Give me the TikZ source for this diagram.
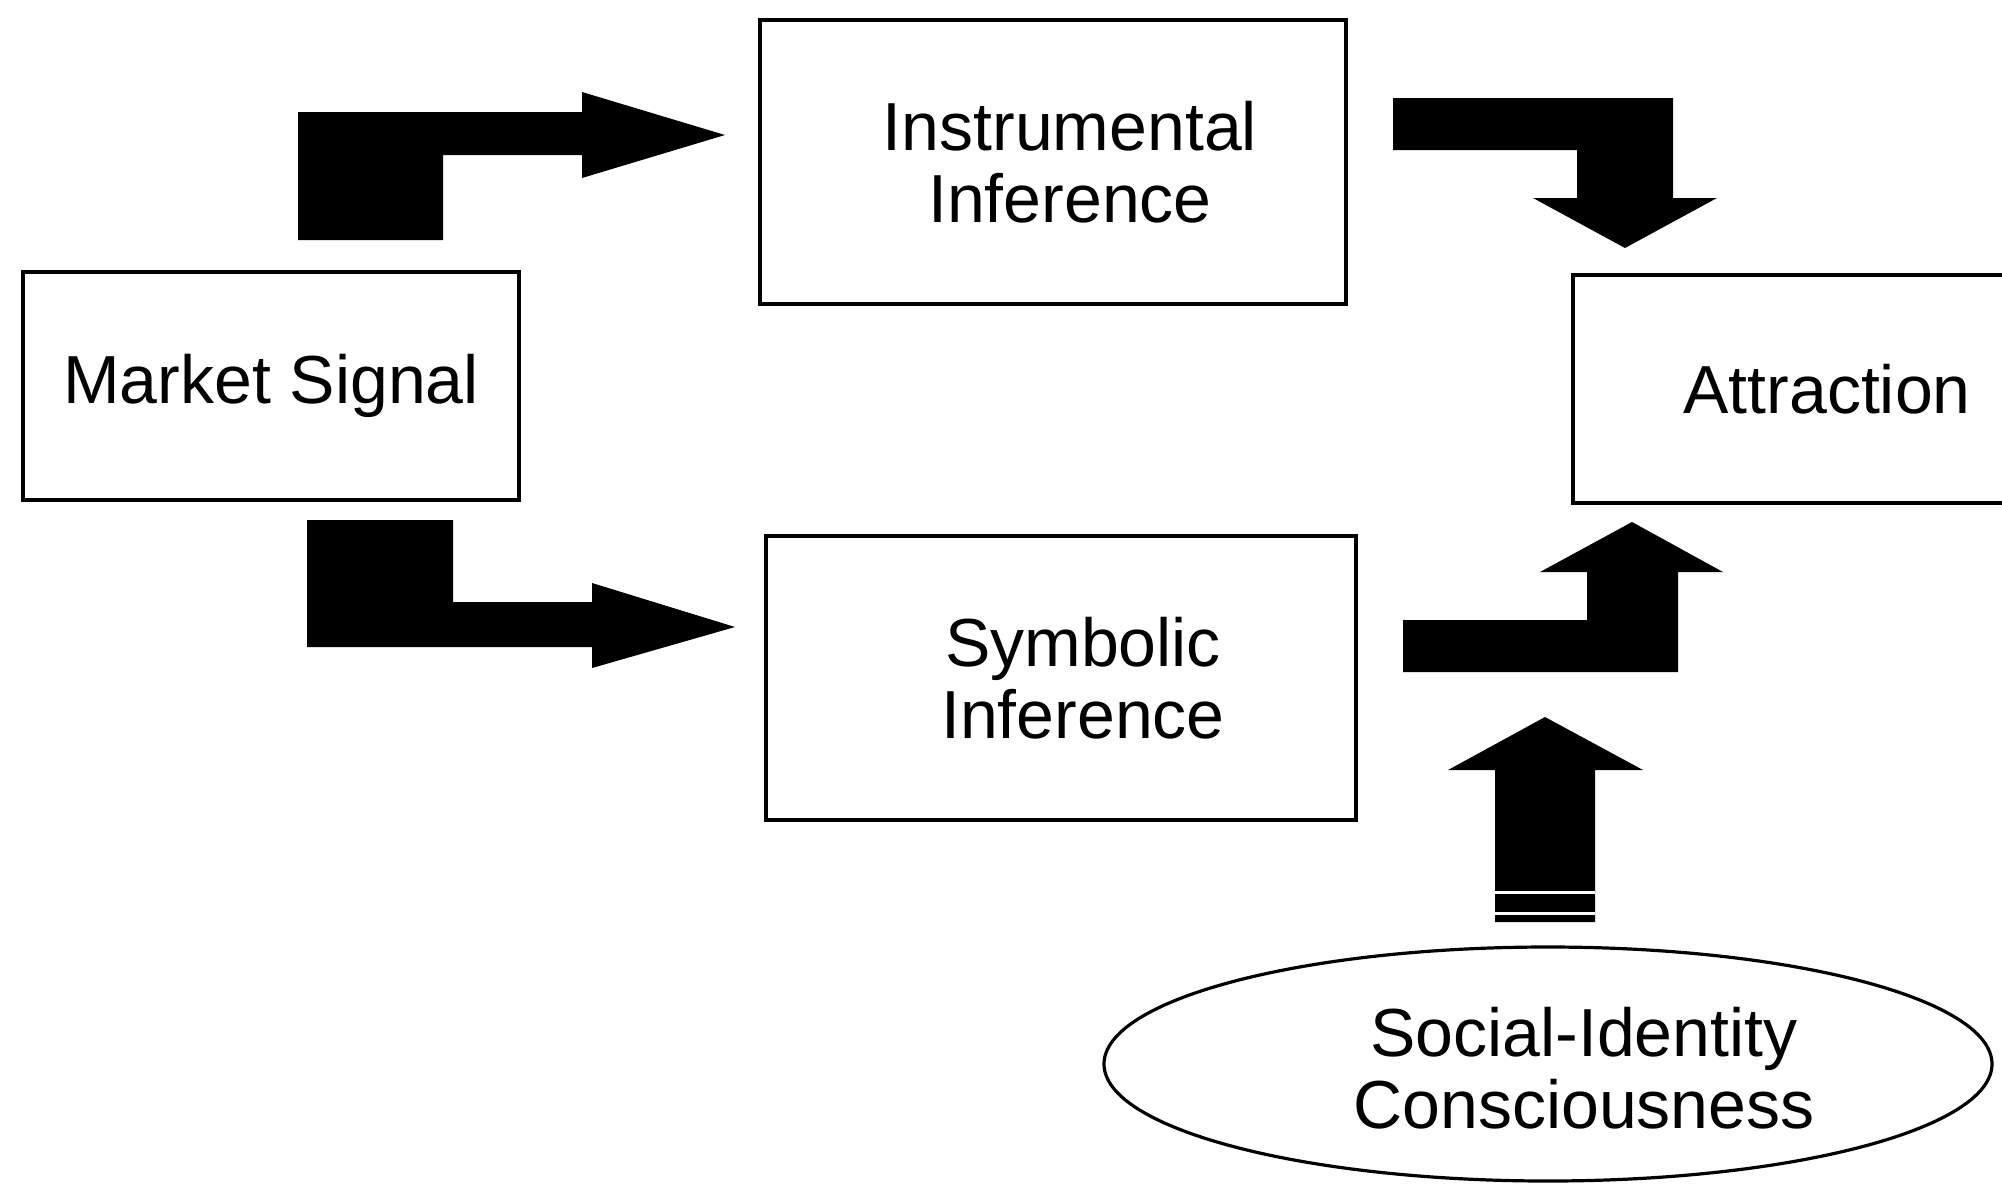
\documentclass[tikz,border=0pt]{standalone}
\usepackage{fontspec}
\setmainfont{Liberation Sans}
\usetikzlibrary{shapes}

\begin{document}
\begin{tikzpicture}[x=0.5pt, y=-0.5pt,
    box/.style={draw, line width=2pt, inner sep=0pt, align=center,
      font=\fontsize{34}{36}\selectfont},
    boxtext/.style={inner sep=0pt, align=center, font=\fontsize{34}{36}\selectfont},
    blockarrow/.style={fill=black, draw=none},
    stripe/.style={draw=white, line width=1.5pt}]
      \useasboundingbox (0,0) rectangle (2002,1184);
      \clip (0,0) rectangle (2002,1184);
      % boxes
      \node [box, minimum width=248pt, minimum height=114pt] (ms) at (271,386) {Market Signal};
      \node [box, minimum width=293pt, minimum height=142pt] (ii) at (1053,162) {};
      \node [boxtext] (iitext) at ([xshift=8.5pt]ii.center) {Instrumental\\Inference};
      \node [box, minimum width=295pt, minimum height=142pt] (si) at (1061,678) {};
      \node [boxtext] (sitext) at ([xshift=11pt]si.center) {Symbolic\\Inference};
      \node [box, minimum width=254pt, minimum height=114pt] (att) at (1827,389) {Attraction};
      \node [box, ellipse, line width=1.6pt, minimum width=444pt, minimum height=117pt] (sic) at (1548,1064) {};
      \node [boxtext] (sictext) at ([xshift=18pt, yshift=-2pt]sic.center) {Social-Identity\\Consciousness};
      % block arrows
      \fill [blockarrow] (298,112) -- (582,112) -- (582,92) -- (725,135) coordinate (tipii)
        -- (582,178) -- (582,155) -- (443,155) -- (443,240) -- (298,240) -- cycle;
      \fill [blockarrow] (307,520) -- (453,520) -- (453,602) -- (592,602) -- (592,583)
        -- (735,627) coordinate (tipsi) -- (592,668) -- (592,647) -- (307,647) -- cycle;
      \fill [blockarrow] (1393,98) -- (1673,98) -- (1673,198) -- (1717,198)
        -- (1625,248) coordinate (tipatt1) -- (1533,198) -- (1577,198) -- (1577,150) -- (1393,150) -- cycle;
      \fill [blockarrow] (1403,672) -- (1678,672) -- (1678,572) -- (1723,572)
        -- (1632,522) coordinate (tipatt2) -- (1540,572) -- (1587,572) -- (1587,620) -- (1403,620) -- cycle;
      \fill [blockarrow] (1495,922) -- (1595,922) -- (1595,770) -- (1643,770)
        -- (1545,717) coordinate (tipsic) -- (1448,770) -- (1495,770) -- cycle;
      \draw [stripe] (1495,892) -- (1595,892);
      \draw [stripe] (1495,913) -- (1595,913);
\end{tikzpicture}
\end{document}
